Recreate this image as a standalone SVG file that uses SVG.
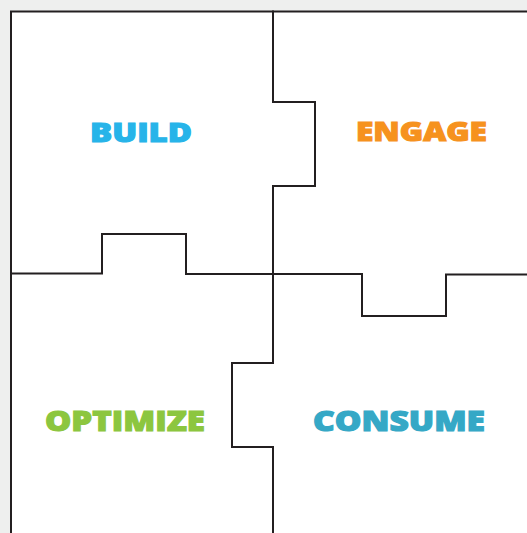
<svg xmlns="http://www.w3.org/2000/svg" width="527" height="533" viewBox="0 0 527 533">
<style>
.bg{fill:#eeefee}
.panel{fill:#ffffff}
.ln{fill:none;stroke:#231f20;stroke-width:2;stroke-linejoin:miter;stroke-linecap:square}
.lbl{font-family:"Open Sans","Liberation Sans",sans-serif;font-weight:800;font-size:27px;stroke-width:1.1;paint-order:stroke}
</style>
<rect class="bg" x="0" y="0" width="527" height="533"/>
<rect class="panel" x="11" y="11" width="516" height="522"/>
<g id="lines">
<path class="ln" d="M11,533 V11.5 H527"/>
<path class="ln" d="M273,11.5 V102 H315 V186 H273 V363 H232 V447 H273 V533"/>
<path class="ln" d="M11,273.5 H102 V234 H186 V274 H362 V316 H446 V274.5 H527"/>
</g>
<g id="build"><text class="lbl" x="90" y="142" fill="#27b4e9" stroke="#27b4e9" textLength="102" lengthAdjust="spacingAndGlyphs">BUILD</text></g>
<g id="engage"><text class="lbl" x="356" y="140.5" fill="#f6921e" stroke="#f6921e" textLength="131" lengthAdjust="spacingAndGlyphs">ENGAGE</text></g>
<g id="optimize"><text class="lbl" x="45" y="431" fill="#8cc63f" stroke="#8cc63f" textLength="160" lengthAdjust="spacingAndGlyphs" style="font-size:28px">OPTIMIZE</text></g>
<g id="consume"><text class="lbl" x="313" y="431" fill="#35a8c6" stroke="#35a8c6" textLength="172" lengthAdjust="spacingAndGlyphs" style="font-size:28px">CONSUME</text></g>
</svg>
